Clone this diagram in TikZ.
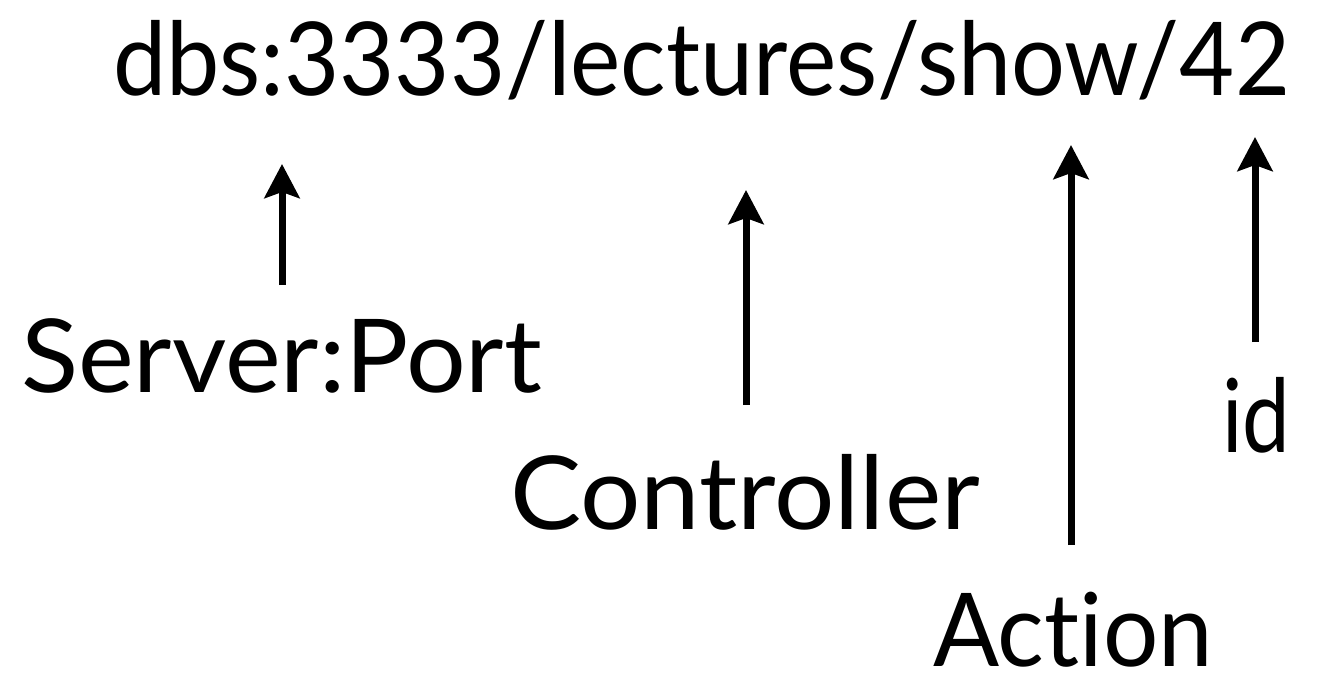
\documentclass[tikz,border=0pt]{standalone}
\usepackage{fontspec}
\setmainfont{Lato}[Ligatures={NoCommon,NoRare}]
\usepackage{graphicx}
\usetikzlibrary{arrows.meta}

% a word set at a fixed size and stretched to a given width
\newcommand\fitword[2]{\resizebox{#1}{\height}{#2}}

\tikzset{
  word/.style={anchor=base west, inner sep=0pt, outer sep=0pt,
               font=\fontsize{102}{110}\selectfont},
  pointer/.style={line width=7pt,
                  -{Stealth[length=34pt, width=35pt, inset=6pt]}}
}

\begin{document}
\begin{tikzpicture}[x=1pt, y=-1pt]
  \useasboundingbox (0,0) rectangle (1327,683);

  % the address
  \node[word] (url) at (113,95) {\fitword{1177pt}{dbs:3333/lectures/show/42}};

  % the parts it is made of
  \node[word] (server)     at (21,392)   {\fitword{521pt}{Server:Port}};
  \node[word] (controller) at (510,529)  {\fitword{470pt}{Controller}};
  \node[word] (action)     at (933,666)  {\fitword{280pt}{Act\kern0pt ion}};
  \node[word] (id)         at (1222,452) {\fitword{68pt}{id}};

  % arrow ends
  \coordinate (server-from)     at (282,285);
  \coordinate (server-to)       at (282,164);
  \coordinate (controller-from) at (746,405);
  \coordinate (controller-to)   at (746,190);
  \coordinate (action-from)     at (1071,545);
  \coordinate (action-to)       at (1071,145);
  \coordinate (id-from)         at (1255,342);
  \coordinate (id-to)           at (1255,137);

  \draw[pointer] (server-from) -- (server-to);
  \draw[pointer] (controller-from) -- (controller-to);
  \draw[pointer] (action-from) -- (action-to);
  \draw[pointer] (id-from) -- (id-to);
\end{tikzpicture}
\end{document}
